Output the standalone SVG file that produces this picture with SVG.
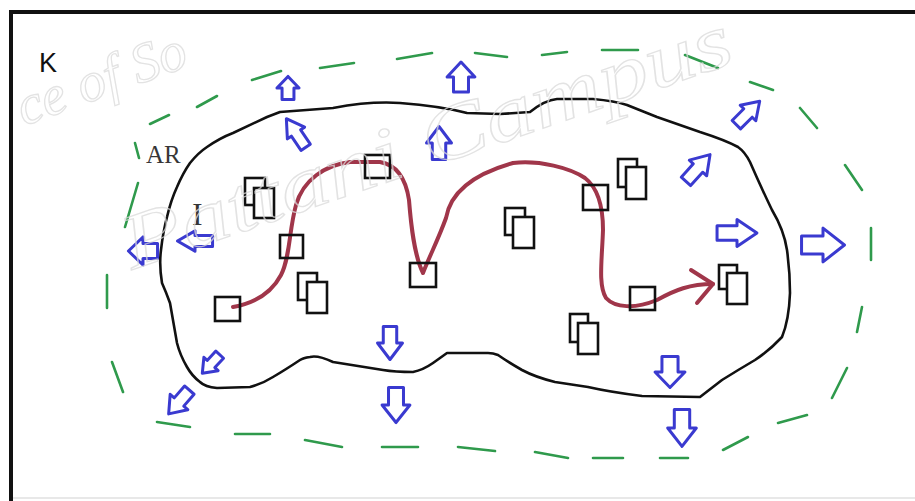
<svg xmlns="http://www.w3.org/2000/svg" xmlns:xlink="http://www.w3.org/1999/xlink" width="915" height="501" viewBox="0 0 915 501">
<style>
.frame{stroke:#111;stroke-width:4;fill:none}
.blob{stroke:#111;stroke-width:2.6;fill:none;stroke-linejoin:round;stroke-linecap:round}
.dash{stroke:#2f9a4c;stroke-width:2.6;fill:none;stroke-linecap:round}
.arr{stroke:#3a3ad0;stroke-width:3;fill:#fff;stroke-linejoin:round}
.sq{stroke:#111;stroke-width:2.6;fill:none}
.doc{stroke:#111;stroke-width:2.6;fill:#fff}
.route{stroke:#a0364a;stroke-width:4;fill:none;stroke-linecap:round;stroke-linejoin:round}
.wm{fill:none;stroke:#dadada;stroke-width:1.3;font-family:'Liberation Serif',serif;font-style:italic}
.lbl{fill:#111}
</style>
<defs>
<path id="arrow" class="arr" vector-effect="non-scaling-stroke" d="M -15,-7 L 0,-7 L 0,-13 L 15,0 L 0,13 L 0,7 L -15,7 Z"/>
</defs>
<rect x="0" y="0" width="915" height="501" fill="#fff"/>
<g id="frame">
<line class="frame" x1="9" y1="12" x2="915" y2="12"/>
<line class="frame" x1="11" y1="10" x2="11" y2="501"/>
<line x1="13" y1="498" x2="915" y2="498" stroke="#e8e8e8" stroke-width="2"/>
</g>
<g id="label-K"><text class="lbl" x="39" y="72" font-family="'Liberation Sans',sans-serif" font-size="27">K</text></g>
<g id="zone-AR">
<path class="dash" d="M107,308 L107,275 M125,227 L138,183 M135,143 L139,158 M150,124 L169,115 M197,107 L217,96 M252,80 L281,71 M320,68 L354,63 M397,59 L432,53 M475,53 L507,57 M542,55 L567,52 M602,50 L638,50 M685,55 L718,68 M750,82 L773,90 M800,108 L817,128 M845,165 L862,190 M871,228 L871,260 M862,307 L857,332 M847,368 L832,398 M807,415 L778,423 M748,437 L723,450 M688,458 L660,458 M623,458 L593,458 M568,458 L535,452 M495,451 L458,447 M418,447 L382,447 M342,447 L305,440 M270,434 L235,434 M190,427 L157,422 M123,392 L112,362"/>
<text class="lbl" x="146" y="163" font-family="'Liberation Serif',serif" font-size="25" fill-opacity="0.85">AR</text>
</g>
<g id="zone-I">
<path class="blob" d="M280,112 L333,108 Q370,101 400,103 Q440,106 467,113 L500,114 L530,112 Q545,100 557,99 L593,99 Q615,101 627,105 L657,117 L700,132 Q725,140 738,147 Q745,152 750,162 Q760,185 772,210 Q784,230 787,250 Q790,272 790,293 Q789,320 782,337 Q770,350 755,360 Q738,370 722,380 L700,397 L642,396 Q610,392 588,387 L555,382 Q535,377 522,370 Q508,362 498,355 Q493,353 488,353 L447,353 Q440,358 433,363 Q423,370 413,372 Q395,372 383,370 L333,362 Q318,355 310,357 Q303,358 300,360 Q285,370 273,377 Q262,384 250,387 L217,388 Q205,387 200,382 Q192,376 187,367 Q180,355 177,343 Q173,320 170,303 Q166,292 162,283 Q159,265 161,250 Q163,232 167,217 Q171,200 177,187 Q183,173 190,163 Q198,153 207,147 Q220,138 233,133 Q252,124 267,117 Z"/>
<text class="lbl" x="192" y="225" font-family="'Liberation Serif',serif" font-size="32" fill-opacity="0.85">I</text>
</g>
<g id="arrows">
<use href="#arrow" transform="translate(288,88) rotate(-90) scale(0.77,0.85)"/>
<use href="#arrow" transform="translate(296,133) rotate(-124) scale(1.15,0.8)"/>
<use href="#arrow" transform="translate(461,77) rotate(-90) scale(1.0,1.07)"/>
<use href="#arrow" transform="translate(439,143) rotate(-90) scale(1.1,0.96)"/>
<use href="#arrow" transform="translate(748,113) rotate(-45) scale(1.1,0.85)"/>
<use href="#arrow" transform="translate(698,168) rotate(-48) scale(1.2,0.9)"/>
<use href="#arrow" transform="translate(737,233) scale(1.33,1.04)"/>
<use href="#arrow" transform="translate(823,245) scale(1.43,1.3)"/>
<use href="#arrow" transform="translate(143,251) rotate(180) scale(0.97,1.08)"/>
<use href="#arrow" transform="translate(195,241) rotate(180) scale(1.17,0.78)"/>
<use href="#arrow" transform="translate(390,343) rotate(90) scale(1.1,0.96)"/>
<use href="#arrow" transform="translate(396,405) rotate(90) scale(1.17,1.07)"/>
<use href="#arrow" transform="translate(670,372) rotate(90) scale(1.03,1.15)"/>
<use href="#arrow" transform="translate(682,428) rotate(90) scale(1.23,1.1)"/>
<use href="#arrow" transform="translate(211,364) rotate(133) scale(0.85,0.75)"/>
<use href="#arrow" transform="translate(179,402) rotate(131) scale(1.05,0.9)"/>
</g>
<g id="documents">
<rect class="doc" x="245" y="178" width="20" height="27"/><rect class="doc" x="254" y="188" width="20" height="30"/>
<rect class="doc" x="298" y="273" width="19" height="27"/><rect class="doc" x="307" y="282" width="20" height="31"/>
<rect class="doc" x="505" y="208" width="20" height="27"/><rect class="doc" x="513" y="217" width="21" height="31"/>
<rect class="doc" x="618" y="159" width="19" height="28"/><rect class="doc" x="626" y="167" width="20" height="32"/>
<rect class="doc" x="719" y="265" width="18" height="24"/><rect class="doc" x="727" y="273" width="20" height="31"/>
<rect class="doc" x="570" y="314" width="18" height="28"/><rect class="doc" x="578" y="323" width="20" height="31"/>
</g>
<g id="connectors">
<path class="route" d="M233,307 C255,303 272,292 281,275 C290,258 289,230 296,205 C303,180 325,165 350,162 L380,162 C398,165 406,180 409,200 C411,225 414,255 423,273 C430,255 438,240 446,218 C450,195 470,175 513,163 C540,160 570,168 585,178 C598,188 603,205 603,230 C602,260 598,285 606,298 C615,308 635,309 657,300 C675,290 690,284 713,284"/>
<path class="route" d="M691,270 L713,284 L697,303"/>
</g>
<g id="stops">
<rect class="sq" x="215" y="297" width="25" height="24"/>
<rect class="sq" x="280" y="235" width="23" height="23"/>
<rect class="sq" x="365" y="155" width="25" height="23"/>
<rect class="sq" x="410" y="263" width="26" height="24"/>
<rect class="sq" x="583" y="185" width="25" height="25"/>
<rect class="sq" x="630" y="287" width="25" height="23"/>
</g>
<g id="watermark" opacity="0.75">
<text class="wm" font-size="56" transform="translate(24,126) rotate(-20)">ce of So</text>
<text class="wm" font-size="78" transform="translate(132,270) rotate(-19)" textLength="640" lengthAdjust="spacingAndGlyphs">Pattani Campus</text>
</g>
</svg>
